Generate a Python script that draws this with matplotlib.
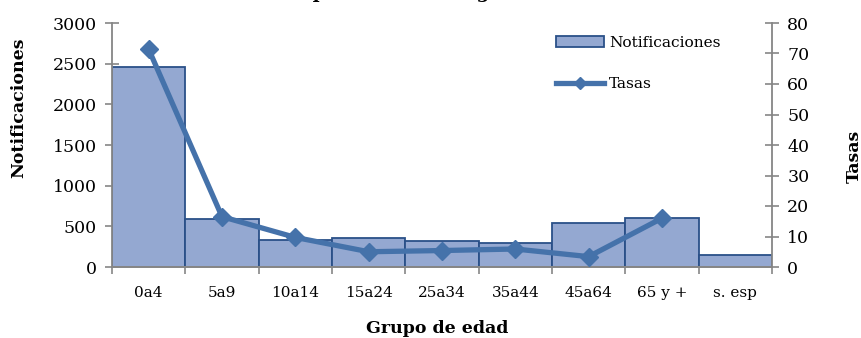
import matplotlib
matplotlib.use("Agg")
import matplotlib.pyplot as plt
import numpy as np
from matplotlib.lines import Line2D
from matplotlib.patches import Patch

# Age groups, notifications (left axis) and rates (right axis)
grupos = ["0a4", "5a9", "10a14", "15a24", "25a34", "35a44", "45a64", "65 y +", "s. esp"]
notificaciones = [2455, 585, 335, 355, 315, 290, 540, 605, 150]
tasas = [71.4, 16.5, 9.7, 5.0, 5.4, 5.9, 3.4, 16.0]

left_ticks = [0, 500, 1000, 1500, 2000, 2500, 3000]
right_ticks = [0, 10, 20, 30, 40, 50, 60, 70, 80]

FONT = "DejaVu Serif"
FS = 12.5
bar_face = "#94a8d1"
bar_edge = "#2a5088"
line_col = "#4572aa"
axis_col = "#868686"

plt.rcParams["font.family"] = [FONT]

fig = plt.figure(figsize=(8.62, 3.38), dpi=100)
ax = fig.add_axes([112 / 862, 1 - 267 / 338, 660 / 862, 244 / 338])
ax2 = ax.twinx()

x = np.arange(len(grupos))
ax.bar(x, notificaciones, width=1.0, color=bar_face, edgecolor=bar_edge,
       linewidth=1.3, zorder=2)
ax.set_xlim(-0.5, len(grupos) - 0.5)
ax.set_ylim(0, 3000)
ax.set_yticks(left_ticks)
ax.set_xticks(x)
ax.set_xticklabels(grupos, fontsize=11)
ax.set_xticks(np.arange(-0.5, len(grupos)), minor=True)
ax.tick_params(axis="x", which="major", length=0, pad=14)
ax.tick_params(axis="x", which="minor", length=5, color=axis_col, width=1.2,
               direction="out")
ax.tick_params(axis="y", direction="inout", length=10, color=axis_col,
               width=1.2, labelsize=FS, pad=6)

ax2.plot(x[:len(tasas)], tasas, color=line_col, linewidth=3.8, marker="D",
         markersize=9, zorder=3)
ax2.set_ylim(0, 80)
ax2.set_yticks(right_ticks)
ax2.tick_params(axis="y", direction="inout", length=10, color=axis_col,
                width=1.2, labelsize=FS, pad=6)

for a in (ax, ax2):
    a.spines["top"].set_visible(False)
    for side in ("left", "right", "bottom"):
        a.spines[side].set_color(axis_col)
        a.spines[side].set_linewidth(1.3)
ax.spines["right"].set_visible(False)
ax2.spines["left"].set_visible(False)

ax.set_ylabel("Notificaciones", fontsize=FS, fontweight="bold")
ax.yaxis.set_label_coords(-0.129, 0.652)
ax2.set_ylabel("Tasas", fontsize=FS, fontweight="bold")
ax2.yaxis.set_label_coords(1.112, 0.455)
ax.set_xlabel("Grupo de edad", fontsize=FS, fontweight="bold")
ax.xaxis.set_label_coords(0.493, -0.218)

handles = [
    Patch(facecolor=bar_face, edgecolor=bar_edge, linewidth=1.3, label="Notificaciones"),
    Line2D([0], [0], color=line_col, linewidth=3.8, marker="D", markersize=6,
           label="Tasas"),
]
leg = ax2.legend(handles=handles, loc="upper left",
                 bbox_to_anchor=(556 / 862, 1 - 36 / 338),
                 bbox_transform=fig.transFigure, frameon=False,
                 fontsize=11.1, handlelength=3.1, handleheight=0.65,
                 handletextpad=0.35, labelspacing=1.75, borderaxespad=0,
                 borderpad=0)

fig.text(556 / 862, 1 + 1.5 / 338, "Tasas por edad. Total general",
         ha="right", va="baseline", fontsize=FS + 1, fontweight="bold")

fig.savefig("out.png", dpi=100)
